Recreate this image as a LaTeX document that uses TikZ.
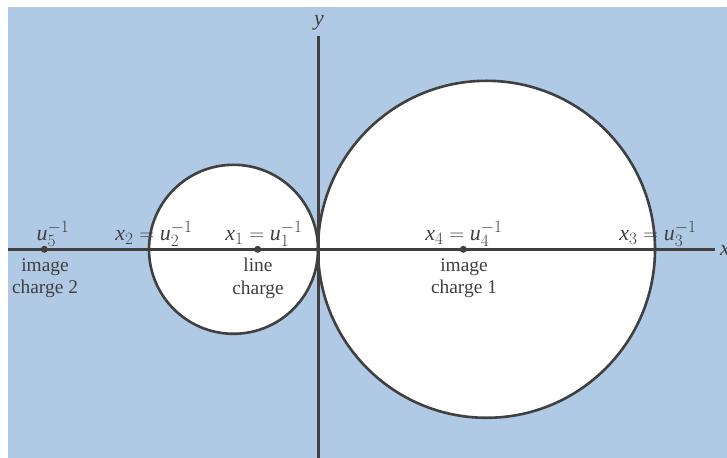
\documentclass[tikz,border=0pt]{standalone}
\usepackage{fontspec}
\setmainfont{Liberation Serif}
\DeclareMathSizes{22}{22}{17.5}{13}
\definecolor{bluebg}{RGB}{176,201,228}
\definecolor{linegray}{RGB}{64,64,64}
\begin{document}
\begin{tikzpicture}[x=1bp,y=-1bp,
  axis/.style={line width=3bp, draw=linegray},
  circfill/.style={fill=white},
  circline/.style={line width=2.6bp, draw=linegray},
  dot/.style={circle, fill=linegray, inner sep=0pt, minimum size=7bp},
  lbl/.style={font=\fontsize{22}{24}\selectfont, text=linegray, inner sep=0pt, anchor=base},
  capt/.style={font=\fontsize{19.5}{23}\selectfont, text=linegray, align=center, inner sep=0pt, anchor=north}]
\useasboundingbox (0,0) rectangle (727,458);
\fill[bluebg] (8,7) rectangle (727,458);
\fill[circfill] (233.5,249.3) circle[radius=84.5bp];
\fill[circfill] (486.5,249.3) circle[radius=168.5bp];
\coordinate (xl) at (8,249.3);
\coordinate (xr) at (715,249.3);
\coordinate (yt) at (318.5,36);
\coordinate (yb) at (318.5,458);
\draw[axis] (xl) -- (xr);
\draw[axis] (yb) -- (yt);
\draw[circline] (233.5,249.3) circle[radius=84.5bp];
\draw[circline] (486.5,249.3) circle[radius=168.5bp];
\node[dot] (c5) at (44.3,249.3) {};
\node[dot] (c1) at (257.7,249.3) {};
\node[dot] (c4) at (463.3,249.3) {};
\node[lbl] (ly) at (319,26) {\textit{y}};
\node[lbl, anchor=base west] (lx) at (720,256) {\textit{x}};
\node[lbl] (l5) at (53,241) {$\textit{u}_5^{-1}$};
\node[lbl] (l2) at (154,241) {$\textit{x}_2 = \textit{u}_2^{-1}$};
\node[lbl] (l1) at (264,241) {$\textit{x}_1 = \textit{u}_1^{-1}$};
\node[lbl] (l4) at (464,241) {$\textit{x}_4 = \textit{u}_4^{-1}$};
\node[lbl] (l3) at (658,241) {$\textit{x}_3 = \textit{u}_3^{-1}$};
\node[capt] (t5) at (45,258) {image\\charge 2};
\node[capt] (t1) at (258,258) {line\\charge};
\node[capt] (t4) at (464,258) {image\\charge 1};
\end{tikzpicture}
\end{document}
